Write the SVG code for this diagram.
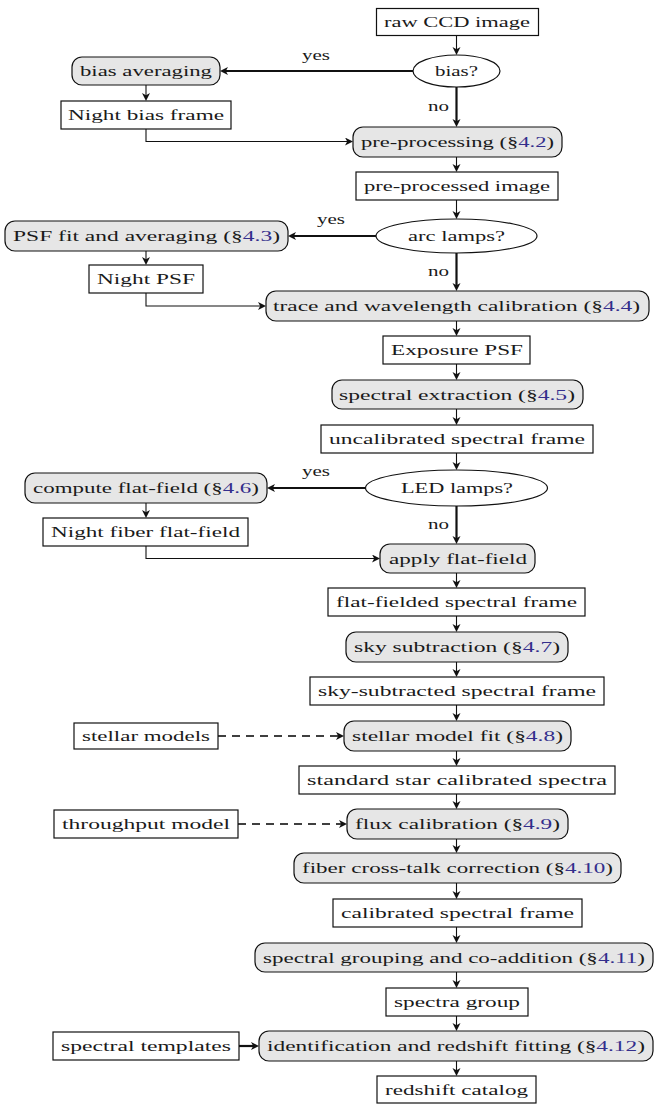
<svg xmlns="http://www.w3.org/2000/svg" width="654" height="1104" viewBox="0 0 654 1104">
<defs>
<style>
.b{fill:#fff;stroke:#111;stroke-width:1.2}
.p{fill:#e6e6e6;stroke:#111;stroke-width:1.2}
text{font-family:"Liberation Serif","Times New Roman",serif;font-size:15px;fill:#1a1a1a}
.r{fill:#332e8c}
.c{fill:none;stroke:#111;stroke-width:1.1}
.t{fill:none;stroke:#111;stroke-width:2.2}
.d{fill:none;stroke:#000;stroke-width:1.4;stroke-dasharray:8,6}
</style>
<marker id="a" markerWidth="10" markerHeight="10" refX="4" refY="4" orient="auto" markerUnits="userSpaceOnUse" viewBox="0 0 10 10">
<path d="M0,0 L8,4 L0,8 L2.2,4 z" fill="#111"/>
</marker>
</defs>

<g id="connectors">
<line class="c" x1="456.5" y1="35.5" x2="456.5" y2="51" marker-end="url(#a)"/>
<line class="t" x1="456.5" y1="87" x2="456.5" y2="123" marker-end="url(#a)"/>
<line class="c" x1="456.5" y1="157" x2="456.5" y2="168" marker-end="url(#a)"/>
<line class="c" x1="456.5" y1="200" x2="456.5" y2="215" marker-end="url(#a)"/>
<line class="t" x1="456.5" y1="253" x2="456.5" y2="287" marker-end="url(#a)"/>
<line class="c" x1="456.5" y1="321" x2="456.5" y2="332" marker-end="url(#a)"/>
<line class="c" x1="456.5" y1="364" x2="456.5" y2="376" marker-end="url(#a)"/>
<line class="c" x1="456.5" y1="409" x2="456.5" y2="421" marker-end="url(#a)"/>
<line class="c" x1="456.5" y1="453" x2="456.5" y2="466" marker-end="url(#a)"/>
<line class="t" x1="456.5" y1="506" x2="456.5" y2="540" marker-end="url(#a)"/>
<line class="c" x1="456.5" y1="573" x2="456.5" y2="584" marker-end="url(#a)"/>
<line class="c" x1="456.5" y1="616" x2="456.5" y2="628" marker-end="url(#a)"/>
<line class="c" x1="456.5" y1="662" x2="456.5" y2="673" marker-end="url(#a)"/>
<line class="c" x1="456.5" y1="705" x2="456.5" y2="717" marker-end="url(#a)"/>
<line class="c" x1="456.5" y1="751" x2="456.5" y2="762" marker-end="url(#a)"/>
<line class="c" x1="456.5" y1="794" x2="456.5" y2="805" marker-end="url(#a)"/>
<line class="c" x1="456.5" y1="839" x2="456.5" y2="849" marker-end="url(#a)"/>
<line class="c" x1="456.5" y1="883" x2="456.5" y2="895" marker-end="url(#a)"/>
<line class="c" x1="456.5" y1="927" x2="456.5" y2="939" marker-end="url(#a)"/>
<line class="c" x1="456.5" y1="972" x2="456.5" y2="984" marker-end="url(#a)"/>
<line class="c" x1="456.5" y1="1016" x2="456.5" y2="1027" marker-end="url(#a)"/>
<line class="c" x1="456.5" y1="1061" x2="456.5" y2="1072" marker-end="url(#a)"/>

<line class="t" x1="413" y1="71" x2="224" y2="71" marker-end="url(#a)"/>
<line class="c" x1="146" y1="85" x2="146" y2="97" marker-end="url(#a)"/>
<path class="c" d="M146,129 V141.5 H349" marker-end="url(#a)"/>

<line class="t" x1="376" y1="236" x2="292" y2="236" marker-end="url(#a)"/>
<line class="c" x1="146" y1="251" x2="146" y2="261" marker-end="url(#a)"/>
<path class="c" d="M146,293 V306 H262" marker-end="url(#a)"/>

<line class="t" x1="365.5" y1="488" x2="271" y2="488" marker-end="url(#a)"/>
<line class="c" x1="146" y1="503" x2="146" y2="514" marker-end="url(#a)"/>
<path class="c" d="M146,546 V558.5 H376" marker-end="url(#a)"/>

<line class="d" x1="218" y1="736" x2="340" y2="736" marker-end="url(#a)"/>
<line class="d" x1="238" y1="824" x2="343" y2="824" marker-end="url(#a)"/>
<line class="t" x1="239" y1="1046" x2="255" y2="1046" marker-end="url(#a)"/>

<text x="302" y="60" textLength="28" lengthAdjust="spacingAndGlyphs">yes</text>
<text x="428" y="111" textLength="21" lengthAdjust="spacingAndGlyphs">no</text>
<text x="317" y="224" textLength="28" lengthAdjust="spacingAndGlyphs">yes</text>
<text x="428" y="276" textLength="21" lengthAdjust="spacingAndGlyphs">no</text>
<text x="302" y="476" textLength="28" lengthAdjust="spacingAndGlyphs">yes</text>
<text x="428" y="529" textLength="21" lengthAdjust="spacingAndGlyphs">no</text>
</g>

<g id="raw"><rect class="b" x="376.5" y="8.5" width="162" height="27"/><text x="384" y="27" textLength="146" lengthAdjust="spacingAndGlyphs">raw CCD image</text></g>
<g id="bias"><ellipse class="b" cx="456.5" cy="71" rx="43.5" ry="16"/><text x="435" y="76" textLength="43" lengthAdjust="spacingAndGlyphs">bias?</text></g>
<g id="biasavg"><rect class="p" x="72" y="57" width="148" height="28" rx="10"/><text x="80" y="76" textLength="132" lengthAdjust="spacingAndGlyphs">bias averaging</text></g>
<g id="nightbias"><rect class="b" x="61" y="101" width="170" height="28"/><text x="68" y="120" textLength="156" lengthAdjust="spacingAndGlyphs">Night bias frame</text></g>
<g id="preproc"><rect class="p" x="353" y="127" width="209" height="30" rx="10"/><text x="361" y="147" textLength="193" lengthAdjust="spacingAndGlyphs">pre-processing (§<tspan class="r">4.2</tspan>)</text></g>
<g id="preimg"><rect class="b" x="356" y="172" width="202" height="28"/><text x="364" y="191" textLength="186" lengthAdjust="spacingAndGlyphs">pre-processed image</text></g>
<g id="arc"><ellipse class="b" cx="456.5" cy="236" rx="80.5" ry="17"/><text x="408" y="241" textLength="97" lengthAdjust="spacingAndGlyphs">arc lamps?</text></g>
<g id="psffit"><rect class="p" x="5" y="221" width="283" height="30" rx="10"/><text x="13" y="241" textLength="267" lengthAdjust="spacingAndGlyphs">PSF fit and averaging (§<tspan class="r">4.3</tspan>)</text></g>
<g id="nightpsf"><rect class="b" x="89" y="265" width="114" height="28"/><text x="97" y="284" textLength="98" lengthAdjust="spacingAndGlyphs">Night PSF</text></g>
<g id="trace"><rect class="p" x="266" y="291" width="383" height="30" rx="10"/><text x="273" y="311" textLength="367" lengthAdjust="spacingAndGlyphs">trace and wavelength calibration (§<tspan class="r">4.4</tspan>)</text></g>
<g id="exppsf"><rect class="b" x="383" y="336" width="147" height="28"/><text x="391" y="355" textLength="132" lengthAdjust="spacingAndGlyphs">Exposure PSF</text></g>
<g id="specext"><rect class="p" x="332" y="380" width="251" height="29" rx="10"/><text x="339" y="399.5" textLength="236" lengthAdjust="spacingAndGlyphs">spectral extraction (§<tspan class="r">4.5</tspan>)</text></g>
<g id="uncal"><rect class="b" x="321" y="425" width="272" height="28"/><text x="329" y="444" textLength="256" lengthAdjust="spacingAndGlyphs">uncalibrated spectral frame</text></g>
<g id="led"><ellipse class="b" cx="456.5" cy="488" rx="91" ry="18"/><text x="401" y="493" textLength="112" lengthAdjust="spacingAndGlyphs">LED lamps?</text></g>
<g id="compflat"><rect class="p" x="25" y="473" width="242" height="30" rx="10"/><text x="33" y="493" textLength="226" lengthAdjust="spacingAndGlyphs">compute flat-field (§<tspan class="r">4.6</tspan>)</text></g>
<g id="nightfiber"><rect class="b" x="43" y="518" width="205" height="28"/><text x="51" y="537" textLength="189" lengthAdjust="spacingAndGlyphs">Night fiber flat-field</text></g>
<g id="applyflat"><rect class="p" x="380" y="544" width="155" height="29" rx="10"/><text x="389" y="563.5" textLength="138" lengthAdjust="spacingAndGlyphs">apply flat-field</text></g>
<g id="flatframe"><rect class="b" x="328" y="588" width="257" height="28"/><text x="336" y="607" textLength="241" lengthAdjust="spacingAndGlyphs">flat-fielded spectral frame</text></g>
<g id="skysub"><rect class="p" x="346" y="632" width="222" height="30" rx="10"/><text x="354" y="652" textLength="206" lengthAdjust="spacingAndGlyphs">sky subtraction (§<tspan class="r">4.7</tspan>)</text></g>
<g id="skyframe"><rect class="b" x="310" y="677" width="294" height="28"/><text x="318" y="696" textLength="278" lengthAdjust="spacingAndGlyphs">sky-subtracted spectral frame</text></g>
<g id="stellarfit"><rect class="p" x="344" y="721" width="227" height="30" rx="10"/><text x="352" y="741" textLength="211" lengthAdjust="spacingAndGlyphs">stellar model fit (§<tspan class="r">4.8</tspan>)</text></g>
<g id="stellarmodels"><rect class="b" x="74" y="723" width="144" height="26"/><text x="82" y="741" textLength="128" lengthAdjust="spacingAndGlyphs">stellar models</text></g>
<g id="stdstar"><rect class="b" x="299" y="766" width="316" height="28"/><text x="307" y="785" textLength="300" lengthAdjust="spacingAndGlyphs">standard star calibrated spectra</text></g>
<g id="fluxcal"><rect class="p" x="347" y="809" width="221" height="30" rx="10"/><text x="355" y="829" textLength="205" lengthAdjust="spacingAndGlyphs">flux calibration (§<tspan class="r">4.9</tspan>)</text></g>
<g id="throughput"><rect class="b" x="54" y="810" width="184" height="28"/><text x="62" y="829" textLength="168" lengthAdjust="spacingAndGlyphs">throughput model</text></g>
<g id="crosstalk"><rect class="p" x="294" y="853" width="327" height="30" rx="10"/><text x="302" y="873" textLength="311" lengthAdjust="spacingAndGlyphs">fiber cross-talk correction (§<tspan class="r">4.10</tspan>)</text></g>
<g id="calframe"><rect class="b" x="333" y="899" width="249" height="28"/><text x="341" y="918" textLength="233" lengthAdjust="spacingAndGlyphs">calibrated spectral frame</text></g>
<g id="grouping"><rect class="p" x="255" y="943" width="398" height="29" rx="10"/><text x="263" y="962.5" textLength="382" lengthAdjust="spacingAndGlyphs">spectral grouping and co-addition (§<tspan class="r">4.11</tspan>)</text></g>
<g id="specgroup"><rect class="b" x="386" y="988" width="142" height="28"/><text x="394" y="1007" textLength="126" lengthAdjust="spacingAndGlyphs">spectra group</text></g>
<g id="redshiftfit"><rect class="p" x="259" y="1031" width="394" height="30" rx="10"/><text x="267" y="1051" textLength="378" lengthAdjust="spacingAndGlyphs">identification and redshift fitting (§<tspan class="r">4.12</tspan>)</text></g>
<g id="templates"><rect class="b" x="53" y="1032" width="186" height="28"/><text x="61" y="1051" textLength="170" lengthAdjust="spacingAndGlyphs">spectral templates</text></g>
<g id="catalog"><rect class="b" x="377" y="1076" width="159" height="27"/><text x="385" y="1094.5" textLength="143" lengthAdjust="spacingAndGlyphs">redshift catalog</text></g>
</svg>
